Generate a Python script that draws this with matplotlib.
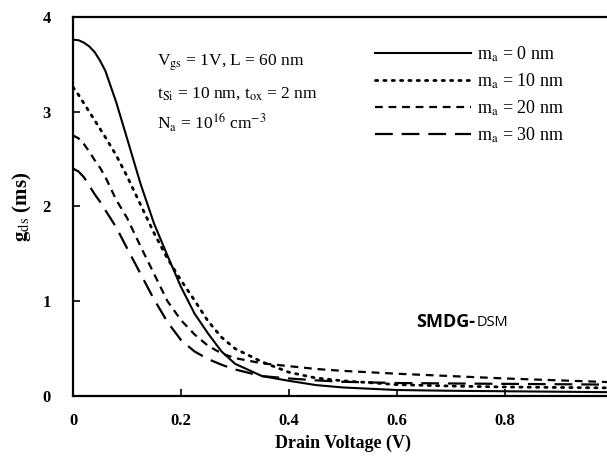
import matplotlib
matplotlib.use("Agg")
import matplotlib.pyplot as plt

# drain voltage (V)
vds = [0, 0.01, 0.02, 0.03, 0.04, 0.05, 0.06, 0.08, 0.1, 0.125, 0.15, 0.175,
       0.2, 0.225, 0.25, 0.275, 0.3, 0.35, 0.4, 0.45, 0.5, 0.6, 0.7, 0.8, 0.9, 1.0]

# g_ds (ms) for each m_a
gds_0 = [3.76, 3.755, 3.73, 3.69, 3.63, 3.54, 3.43, 3.10, 2.72, 2.24, 1.82, 1.48,
         1.15, 0.87, 0.66, 0.47, 0.34, 0.21, 0.16, 0.115, 0.09, 0.063, 0.055, 0.05, 0.045, 0.04]
gds_10 = [3.26, 3.18, 3.09, 3.00, 2.91, 2.82, 2.73, 2.54, 2.32, 2.02, 1.72, 1.45,
          1.22, 1.01, 0.79, 0.62, 0.50, 0.36, 0.25, 0.19, 0.16, 0.12, 0.105, 0.095, 0.09, 0.085]
gds_20 = [2.75, 2.72, 2.66, 2.58, 2.49, 2.41, 2.31, 2.07, 1.88, 1.58, 1.29, 1.00,
          0.80, 0.65, 0.53, 0.45, 0.40, 0.345, 0.315, 0.285, 0.265, 0.235, 0.21, 0.185, 0.165, 0.145]
gds_30 = [2.40, 2.37, 2.31, 2.22, 2.13, 2.05, 1.96, 1.78, 1.56, 1.29, 1.02, 0.78,
          0.59, 0.47, 0.39, 0.33, 0.28, 0.21, 0.185, 0.165, 0.15, 0.137, 0.132, 0.128, 0.124, 0.12]

labels = [r"m$_{\rm a}$ = 0 nm", r"m$_{\rm a}$ = 10 nm",
          r"m$_{\rm a}$ = 20 nm", r"m$_{\rm a}$ = 30 nm"]

plt.rcParams['font.family'] = ['Liberation Serif', 'DejaVu Serif']
plt.rcParams['mathtext.fontset'] = 'stix'

fig = plt.figure(figsize=(6.07, 4.57), dpi=100)
ax = fig.add_axes([0.1203, 0.1335, 0.8896, 0.8293])

ax.plot(vds, gds_0, color='black', lw=1.5, label=labels[0])
ax.plot(vds, gds_10, color='black', lw=2, linestyle=(0, (0.8, 2.2)),
        dash_capstyle='round', label=labels[1])
ax.plot(vds, gds_20, color='black', lw=1.6, linestyle=(0, (3.5, 2.6)), label=labels[2])
ax.plot(vds, gds_30, color='black', lw=1.6, linestyle=(0, (8, 4)), label=labels[3])

ax.set_xlim(0, 1)
ax.set_ylim(0, 4)
ax.set_xticks([0, 0.2, 0.4, 0.6, 0.8, 1.0])
ax.set_xticklabels(['0', '0.2', '0.4', '0.6', '0.8', '1'])
ax.set_yticks([0, 1, 2, 3, 4])
ax.tick_params(direction='in', length=5, width=1.2, top=False, right=False,
               labelsize=12, pad=12)
ax.tick_params(axis='y', pad=16)
for t in ax.get_xticklabels() + ax.get_yticklabels():
    t.set_fontweight('bold')
for s in ax.spines.values():
    s.set_linewidth(1.6)
ax.spines['right'].set_visible(False)

ax.set_xlabel("Drain Voltage (V)", fontsize=13, fontweight='bold', labelpad=4)
ax.set_ylabel(r"$\mathbf{g}_{\mathrm{ds}}$ (ms)", fontsize=15, fontweight='bold',
              labelpad=6)

ax.text(0.155, 3.52, r"V$_{\rm gs}$ = 1V, L = 60 nm", fontsize=12.5, va='center')
ax.text(0.155, 3.19, r"t$_{\rm Si}$ = 10 nm, t$_{\rm ox}$ = 2 nm", fontsize=12.5, va='center')
ax.text(0.155, 2.88, r"N$_{\rm a}$ = 10$^{16}$ cm$^{-3}$", fontsize=12.5, va='center')

ax.text(0.744, 0.78, "SMDG-", fontsize=13, fontweight='bold', family='Open Sans',
        ha='right', va='center')
ax.text(0.748, 0.775, "DSM", fontsize=10.5, family='Open Sans', ha='left', va='center')

ax.legend(loc='upper left', bbox_to_anchor=(0.53, 0.97), frameon=False,
          fontsize=13, handlelength=5.3, handletextpad=0.3, labelspacing=0.42)

fig.savefig("out.png", dpi=100)
